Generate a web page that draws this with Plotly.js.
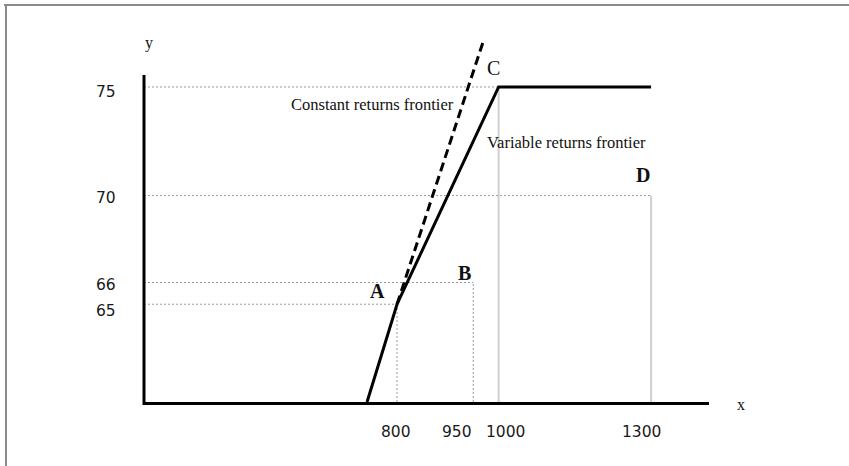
<!DOCTYPE html>
<html><head><meta charset="utf-8">
<script src="https://cdn.plot.ly/plotly-3.0.1.min.js"></script>
<style>html,body{margin:0;padding:0;background:#fff}#chart{width:849px;height:466px}</style>
</head><body><div id="chart"></div>
<script>
// ---- data ----
const pointLabels = ['A', 'B', 'C', 'D'];
const pointX = [800, 950, 1000, 1300];
const pointY = [65, 66, 75, 70];
const xTickVals = [800, 950, 1000, 1300];
const xTickText = ['800', '950', '1000', '1300'];
const yTickVals = [65, 66, 70, 75];
const yTickText = ['65', '66', '70', '75'];
const vrsX = [741, 800, 1000, 1300];      // variable returns frontier
const vrsY = [60.5, 65, 75, 75];
const crsX = [800, 969];                  // constant returns frontier
const crsY = [65, 77.05];
const xRange = [302, 1414];
const yRange = [60.5, 77.3];
const yAxisTop = 75.55;

// ---- layout geometry ----
const W = 849, H = 466;
const M = {l: 144, r: 140, t: 37, b: 64};
const PW = W - M.l - M.r, PH = H - M.t - M.b;
const px2paperX = p => (p - M.l) / PW;
const px2paperY = p => (H - M.b - p) / PH;

const serif = '"Liberation Serif", "Times New Roman", serif';
const sans = '"DejaVu Sans", Verdana, sans-serif';

const traces = [];
// guide lines
const vStyle = [
  {color: '#9a9a9a', width: 1, dash: '2px,2px'},
  {color: '#9a9a9a', width: 1, dash: '2px,2px'},
  {color: '#cfcfcf', width: 2, dash: 'solid'},
  {color: '#cfcfcf', width: 2, dash: 'solid'}
];
pointX.forEach((x, i) => {
  traces.push({x: [xRange[0], x], y: [pointY[i], pointY[i]], mode: 'lines',
    line: {color: '#9a9a9a', width: 1, dash: '2px,2px'}, hoverinfo: 'skip', showlegend: false});
  traces.push({x: [x, x], y: [yRange[0], pointY[i]], mode: 'lines',
    line: vStyle[i], hoverinfo: 'skip', showlegend: false});
});
traces.push({x: crsX, y: crsY, mode: 'lines', name: 'Constant returns frontier',
  line: {color: '#000', width: 3, dash: '9px,5px'}, showlegend: false});
traces.push({x: vrsX, y: vrsY, mode: 'lines', name: 'Variable returns frontier',
  line: {color: '#000', width: 3}, showlegend: false});

const annotations = [];
const ptShift = [[-20, 13], [-9, 10], [-5, 19], [-8, 21]];
const ptBold = [true, true, false, true];
pointLabels.forEach((t, i) => {
  annotations.push({x: pointX[i], y: pointY[i], xref: 'x', yref: 'y', text: ptBold[i] ? '<b>' + t + '</b>' : t,
    showarrow: false, xshift: ptShift[i][0], yshift: ptShift[i][1],
    font: {family: serif, size: 20, color: '#111'}});
});
const xNudge = [-1, -16, 7, -10];
xTickVals.forEach((v, i) => {
  annotations.push({x: v, y: 0, xref: 'x', yref: 'paper', yanchor: 'top', text: xTickText[i],
    showarrow: false, xshift: xNudge[i], yshift: -19,
    font: {family: sans, size: 15.5, color: '#1a1a1a'}});
});
const yNudge = [-7, -2.5, -2, -5];
yTickVals.forEach((v, i) => {
  annotations.push({x: 0, y: v, xref: 'paper', yref: 'y', xanchor: 'right', text: yTickText[i],
    showarrow: false, xshift: -26, yshift: yNudge[i],
    font: {family: sans, size: 15.5, color: '#1a1a1a'}});
});
annotations.push({x: pointX[2], y: pointY[2], xref: 'x', yref: 'y', xanchor: 'right', text: 'Constant returns frontier',
  showarrow: false, xshift: -43, yshift: -18, font: {family: serif, size: 16.5, color: '#111'}});
annotations.push({x: pointX[2], y: pointY[2], xref: 'x', yref: 'y', xanchor: 'left', text: 'Variable returns frontier',
  showarrow: false, xshift: -14, yshift: -56, font: {family: serif, size: 16.5, color: '#111'}});
annotations.push({x: 0, y: 1, xref: 'paper', yref: 'paper', text: 'y', showarrow: false,
  xshift: -1, yshift: -6, yanchor: 'middle', font: {family: serif, size: 16, color: '#111'}});
annotations.push({x: 1, y: 0, xref: 'paper', yref: 'paper', text: 'x', showarrow: false,
  xshift: 38, yshift: -13, font: {family: serif, size: 16, color: '#111'}});

const shapes = [
  // y axis line
  {type: 'line', xref: 'paper', yref: 'paper', x0: 0, x1: 0, y0: -3 / PH,
    y1: (yAxisTop - yRange[0]) / (yRange[1] - yRange[0]), line: {color: '#000', width: 3}},
  // image frame (top and left)
  {type: 'line', xref: 'paper', yref: 'paper', x0: px2paperX(4), x1: px2paperX(849), y0: px2paperY(5), y1: px2paperY(5),
    line: {color: '#8a8a8a', width: 2}},
  {type: 'line', xref: 'paper', yref: 'paper', x0: px2paperX(6), x1: px2paperX(6), y0: px2paperY(4), y1: px2paperY(466),
    line: {color: '#8a8a8a', width: 2}}
];

const layout = {
  width: W, height: H, margin: M, paper_bgcolor: '#fff', plot_bgcolor: '#fff', showlegend: false,
  xaxis: {range: xRange, showgrid: false, zeroline: false, showline: true, linecolor: '#000', linewidth: 3,
    showticklabels: false, ticks: '', fixedrange: true},
  yaxis: {range: yRange, showgrid: false, zeroline: false, showline: false,
    showticklabels: false, ticks: '', fixedrange: true},
  annotations: annotations, shapes: shapes
};
Plotly.newPlot('chart', traces, layout, {displayModeBar: false, staticPlot: true});
</script></body></html>
